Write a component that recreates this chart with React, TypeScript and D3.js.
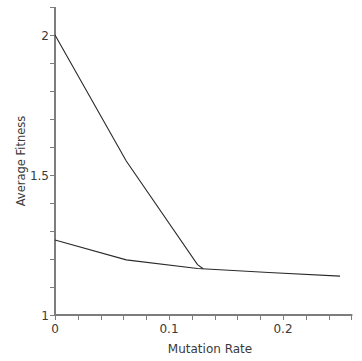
import { useEffect, useRef } from 'react';
import * as d3 from 'd3';

// mutation rate vs average fitness
const upperRate = [0, 0.0625, 0.125, 0.13];
const upperFitness = [2.0, 1.55, 1.18, 1.165];
const lowerRate = [0, 0.0625, 0.125, 0.1875, 0.25];
const lowerFitness = [1.268, 1.197, 1.166, 1.152, 1.139];
const xTicks = [0, 0.1, 0.2];
const yTicks = [1, 1.5, 2];

export default function App() {
  const svgRef = useRef<SVGSVGElement>(null);

  useEffect(() => {
    if (!svgRef.current) return;
    const width = 362;
    const height = 361;
    const font = '"DejaVu Sans", Verdana, sans-serif';
    const textColor = '#3a3a3a';
    const axisColor = '#7d7d7d';

    const svg = d3.select(svgRef.current).attr('width', width).attr('height', height);
    svg.selectAll('*').remove();

    const x = d3.scaleLinear().domain([0, 0.26]).range([55, 351.4]);
    const y = d3.scaleLinear().domain([1, 2.1]).range([315, 7]);

    // minor ticks
    const xMinor = d3.range(0, 0.2601, 0.02);
    const yMinor = d3.range(1, 2.1001, 0.1);

    svg
      .selectAll('.xt')
      .data(xMinor)
      .enter()
      .append('line')
      .attr('x1', (d) => Math.round(x(d)) + 0.5)
      .attr('x2', (d) => Math.round(x(d)) + 0.5)
      .attr('y1', 315)
      .attr('y2', 320)
      .attr('stroke', axisColor);

    svg
      .selectAll('.yt')
      .data(yMinor)
      .enter()
      .append('line')
      .attr('x1', 50)
      .attr('x2', 55)
      .attr('y1', (d) => Math.round(y(d)) + 0.5)
      .attr('y2', (d) => Math.round(y(d)) + 0.5)
      .attr('stroke', axisColor);

    // axis lines
    svg
      .append('line')
      .attr('x1', 55)
      .attr('x2', 55)
      .attr('y1', y(2.1))
      .attr('y2', 316)
      .attr('stroke', axisColor)
      .attr('stroke-width', 2);
    svg
      .append('line')
      .attr('x1', 54)
      .attr('x2', x(0.26) + 1)
      .attr('y1', 315)
      .attr('y2', 315)
      .attr('stroke', axisColor)
      .attr('stroke-width', 2);

    // tick labels
    svg
      .selectAll('.xl')
      .data(xTicks)
      .enter()
      .append('text')
      .attr('x', (d) => x(d))
      .attr('y', 333)
      .attr('text-anchor', 'middle')
      .attr('fill', textColor)
      .style('font-family', font)
      .style('font-size', '12px')
      .text((d) => String(d));

    svg
      .selectAll('.yl')
      .data(yTicks)
      .enter()
      .append('text')
      .attr('x', 49)
      .attr('y', (d) => y(d) + 5)
      .attr('text-anchor', 'end')
      .attr('fill', textColor)
      .style('font-family', font)
      .style('font-size', '12px')
      .text((d) => String(d));

    // axis titles
    svg
      .append('text')
      .attr('x', 210)
      .attr('y', 353)
      .attr('text-anchor', 'middle')
      .attr('fill', textColor)
      .style('font-family', font)
      .style('font-size', '12px')
      .text('Mutation Rate');

    svg
      .append('text')
      .attr('transform', 'translate(25,161) rotate(-90)')
      .attr('text-anchor', 'middle')
      .attr('fill', textColor)
      .style('font-family', font)
      .style('font-size', '11.5px')
      .text('Average Fitness');

    // lines
    const line = d3
      .line<[number, number]>()
      .x((d) => x(d[0]))
      .y((d) => y(d[1]));

    const upper = upperRate.map((r, i) => [r, upperFitness[i]] as [number, number]);
    const lower = lowerRate.map((r, i) => [r, lowerFitness[i]] as [number, number]);

    [upper, lower].forEach((pts) => {
      svg
        .append('path')
        .datum(pts)
        .attr('d', line)
        .attr('fill', 'none')
        .attr('stroke', '#2a2a2a')
        .attr('stroke-width', 1.1);
    });
  }, []);

  return (
    <div style={{ position: 'absolute', left: 0, top: 0, background: '#fff' }}>
      <svg ref={svgRef} style={{ display: 'block' }} />
    </div>
  );
}
